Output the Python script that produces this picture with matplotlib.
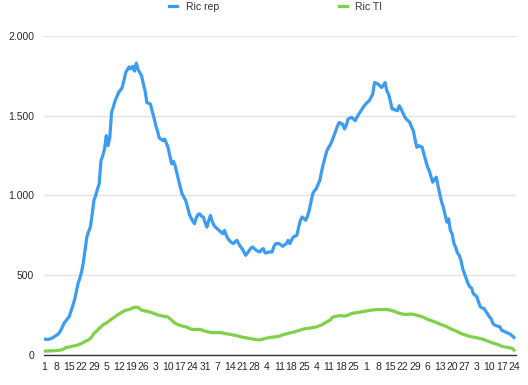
"""Ricoverati in reparto e in terapia intensiva, ott 2020 - giu 2021."""

import matplotlib.pyplot as plt
import numpy as np
import pandas as pd
from matplotlib.ticker import FuncFormatter

plt.rcParams["font.family"] = ["Liberation Sans", "DejaVu Sans"]

start_date = "2020-10-01"
series_names = ["Ric rep", "Ric TI"]

# daily values, one row per week
ric_rep = [
    100, 98, 97, 100, 105, 110, 118,
    125, 135, 150, 172, 198, 212, 228,
    240, 275, 310, 344, 395, 448, 480,
    521, 580, 660, 740, 775, 802, 880,
    969, 1000, 1040, 1073, 1219, 1250, 1290,
    1375, 1313, 1365, 1521, 1555, 1594, 1620,
    1646, 1660, 1677, 1720, 1771, 1790, 1806,
    1795, 1810, 1780, 1830, 1790, 1770, 1750,
    1700, 1656, 1583, 1578, 1573, 1530, 1490,
    1440, 1406, 1360, 1354, 1344, 1354, 1330,
    1302, 1250, 1198, 1215, 1188, 1140, 1094,
    1050, 1010, 990, 969, 930, 885, 860,
    840, 823, 860, 880, 885, 870, 865,
    830, 802, 840, 875, 840, 813, 800,
    790, 781, 770, 760, 781, 750, 729,
    715, 705, 698, 710, 719, 698, 680,
    667, 645, 625, 640, 656, 670, 677,
    665, 656, 650, 646, 660, 667, 640,
    640, 645, 646, 646, 680, 698, 698,
    698, 690, 681, 690, 698, 719, 698,
    720, 740, 745, 750, 800, 844, 865,
    855, 844, 870, 906, 960, 1010, 1030,
    1042, 1070, 1094, 1150, 1198, 1240, 1281,
    1300, 1320, 1344, 1375, 1406, 1435, 1458,
    1450, 1448, 1417, 1440, 1479, 1485, 1490,
    1480, 1469, 1490, 1510, 1525, 1542, 1560,
    1573, 1585, 1594, 1615, 1635, 1708, 1705,
    1698, 1688, 1677, 1690, 1708, 1656, 1635,
    1590, 1542, 1540, 1535, 1531, 1563, 1545,
    1520, 1495, 1480, 1469, 1458, 1430, 1406,
    1350, 1302, 1313, 1308, 1302, 1260, 1219,
    1180, 1156, 1120, 1083, 1100, 1115, 1060,
    1010, 960, 927, 880, 833, 854, 780,
    760, 700, 675, 640, 625, 594, 540,
    510, 480, 448, 427, 420, 385, 375,
    365, 330, 302, 295, 292, 275, 260,
    240, 229, 200, 188, 183, 180, 177,
    156, 150, 145, 140, 135, 130, 120,
    110,
]

ric_ti = [
    25, 24, 25, 26, 25, 27, 27,
    28, 29, 31, 33, 38, 46, 48,
    50, 52, 56, 57, 60, 63, 68,
    73, 78, 85, 90, 95, 104, 118,
    135, 145, 155, 167, 175, 188, 195,
    200, 208, 216, 225, 233, 240, 248,
    256, 262, 268, 275, 281, 283, 285,
    290, 295, 298, 300, 298, 290, 281,
    278, 276, 274, 271, 268, 265, 260,
    256, 252, 249, 246, 244, 242, 240,
    238, 228, 218, 208, 200, 194, 188,
    185, 182, 178, 177, 172, 167, 162,
    160, 160, 161, 160, 160, 158, 153,
    150, 146, 144, 142, 140, 140, 141,
    140, 140, 140, 138, 135, 133, 131,
    130, 128, 125, 123, 121, 118, 115,
    112, 110, 108, 106, 104, 102, 100,
    98, 96, 95, 94, 97, 100, 104,
    106, 108, 110, 112, 113, 114, 115,
    118, 122, 126, 129, 132, 135, 138,
    140, 143, 146, 150, 153, 156, 160,
    163, 165, 167, 168, 170, 172, 173,
    176, 180, 184, 188, 195, 202, 208,
    214, 219, 235, 240, 242, 244, 246,
    246, 245, 244, 246, 250, 255, 260,
    262, 264, 266, 267, 269, 271, 273,
    275, 277, 279, 281, 282, 283, 284,
    285, 285, 285, 285, 285, 284, 283,
    281, 278, 274, 270, 265, 262, 259,
    256, 255, 254, 255, 256, 256, 255,
    252, 249, 246, 243, 240, 235, 229,
    223, 220, 216, 212, 208, 204, 199,
    194, 190, 186, 182, 177, 171, 165,
    160, 156, 151, 146, 140, 135, 131,
    127, 123, 119, 116, 114, 112, 110,
    108, 105, 103, 100, 96, 92, 88,
    83, 79, 75, 72, 69, 65, 60,
    55, 52, 50, 48, 46, 44, 42,
    31,
]

dates = pd.date_range(start_date, periods=len(ric_rep), freq="D")
days = np.arange(len(dates))

# Make the figure
fig = plt.figure(figsize=(5.28, 3.85), dpi=100)
ax = fig.add_axes([0.0833, 0.078, 0.894, 0.8285])

ax.plot(days, ric_rep, color="#3b9cf3", lw=2.3, label=series_names[0],
        solid_joinstyle="round")
ax.plot(days, ric_ti, color="#7fd14a", lw=2.3, label=series_names[1],
        solid_joinstyle="round")

# limits and ticks
ax.set_xlim(-0.3, len(days) + 0.2)
ax.set_ylim(0, 2000)
ax.set_yticks([0, 500, 1000, 1500, 2000])
ax.yaxis.set_major_formatter(
    FuncFormatter(lambda v, _: f"{int(v):,}".replace(",", "."))
)
tick_pos = days[::7]
ax.set_xticks(tick_pos)
ax.set_xticklabels([str(d.day) for d in dates[::7]])
ax.tick_params(length=0, labelsize=7.5, colors="#2a2a2a")
ax.tick_params(axis="x", pad=5)
ax.tick_params(axis="y", pad=7)

# grid and spines
ax.grid(axis="y", color="#e3e3e3", lw=1.0)
ax.set_axisbelow(True)
for side in ["left", "right", "top"]:
    ax.spines[side].set_visible(False)
ax.spines["bottom"].set_color("#333333")
ax.spines["bottom"].set_linewidth(1.0)

leg = fig.legend(
    loc="center",
    bbox_to_anchor=(0.522, 0.982),
    ncol=2,
    frameon=False,
    fontsize=7.5,
    handlelength=0.8,
    handletextpad=0.8,
    columnspacing=11.5,
)
for txt in leg.get_texts():
    txt.set_color("#333333")

fig.savefig("out.png", dpi=100)
